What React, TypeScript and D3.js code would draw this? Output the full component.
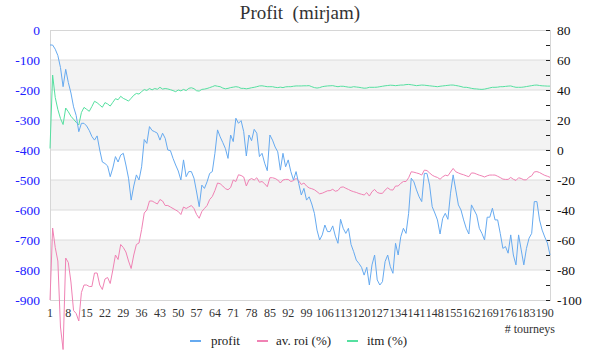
import React from "react";
import * as d3 from "d3";

const title = "Profit  (mirjam)";
const xAxisTitle = "# tourneys";
const seriesNames = ["profit", "av. roi (%)", "itm (%)"];
const seriesColors = ["#66aaf0", "#f082b4", "#55e0a0"];

const leftTicks = [0, -100, -200, -300, -400, -500, -600, -700, -800, -900];
const rightTicks = [80, 60, 40, 20, 0, -20, -40, -60, -80, -100];
const xTicks = d3.range(1, 191, 7);

const profit = [
  -50, -50, -64, -85, -125, -189, -131, -175, -210, -256,
  -285, -339, -311, -311, -320, -335, -355, -367, -353, -400,
  -440, -445, -453, -489, -460, -422, -440, -417, -411, -450,
  -494, -567, -520, -483, -500, -456, -365, -378, -322, -335,
  -339, -344, -367, -344, -361, -400, -402, -428, -450, -470,
  -500, -433, -489, -472, -472, -494, -540, -589, -517, -528,
  -506, -478, -472, -411, -333, -356, -375, -395, -428, -350,
  -372, -294, -311, -302, -339, -420, -350, -369, -331, -344,
  -422, -411, -444, -469, -350, -367, -390, -406, -467, -411,
  -456, -433, -472, -500, -472, -511, -550, -528, -567, -556,
  -580, -611, -667, -700, -683, -650, -672, -672, -653, -687,
  -711, -631, -661, -678, -661, -715, -739, -767, -778, -791,
  -817, -791, -850, -783, -750, -833, -850, -839, -772, -750,
  -789, -811, -711, -750, -689, -661, -678, -611, -494, -506,
  -533, -556, -572, -478, -478, -517, -589, -610, -633, -680,
  -628, -611, -631, -544, -483, -533, -583, -600, -633, -661,
  -680, -583, -600, -617, -661, -678, -700, -624, -624, -594,
  -633, -633, -678, -728, -722, -744, -683, -750, -783, -683,
  -733, -783, -728, -694, -678, -572, -572, -633, -667, -690,
  -710, -750,
];

const roi = [
  -100, -52, -65, -74, -118, -133, -72, -75, -88, -107,
  -109, -114, -95, -90, -90, -91, -91, -82, -82, -90,
  -93, -86, -85, -89, -80, -70, -73, -63, -65, -68,
  -74, -79, -70, -63, -62, -53, -42, -40, -34, -34,
  -35, -36, -33, -34, -37, -37, -38, -39, -40, -41,
  -43, -38, -39, -38, -37, -39, -43, -45.5, -41, -39,
  -37, -33, -31, -27, -22, -22.5, -24, -25.8, -26.5, -25,
  -20, -21, -16.5, -17, -18, -24, -20, -19, -20, -18.5,
  -21.5, -21, -22.5, -24.5, -18.5, -18.5, -19, -20, -22, -20,
  -19.6, -19.6, -21, -20.4, -19, -20.5, -23, -22, -24, -25.3,
  -25.8, -26.5, -27.8, -29.2, -28.8, -28, -27.2, -27.1, -26.2, -27.5,
  -27, -24.9, -24.6, -25.5, -26.3, -27.2, -27.8, -28.3, -29, -29.5,
  -30, -28.4, -30.7, -27.8, -26.3, -28.3, -28.9, -28.9, -26.7, -25.2,
  -26.5, -26.7, -24, -24, -22.2, -21, -21, -18.5, -14.5, -14.8,
  -15.3, -15.8, -16.7, -13.4, -13.7, -15.3, -16.8, -17.7, -18.3, -19.5,
  -17.9, -16.8, -17.2, -14.7, -12.3, -14.5, -15.3, -16, -16.5, -17.2,
  -17.8, -15.3, -15.4, -16.1, -16.8, -17.3, -18, -17.2, -16.7, -16.7,
  -16.7, -17.5, -18.4, -19.4, -19.6, -19.6, -18.3, -19.5, -20.3, -18.5,
  -19, -19.9, -19.9, -18.1, -17.2, -14.6, -14.4, -15, -16, -16.9,
  -17.5, -18.2,
];

const itm = [
  1, 50, 35, 27, 21, 17, 28, 25.5, 22.5, 20.5,
  18.5, 16.7, 25, 28.4, 27.1, 25.8, 29, 32.5, 31.5, 30,
  28.5, 31.6, 30.7, 29.3, 31.8, 34.2, 33.5, 35.8, 34.4, 33.6,
  32.6, 34.5, 36.5, 37.7, 37.3, 38.9, 40.3, 39.7, 41, 40.1,
  41, 40.5, 41.8, 40.6, 41, 40.7, 40.2, 39.6, 38.9, 40,
  39.4, 40.4, 39.6, 41.1, 41.5, 40.9, 39.5, 39.3, 40.4, 40.6,
  41, 41.6, 42.2, 42.9, 42.5, 42.2, 41.3, 40.8, 41.1, 41.6,
  41.9, 42.2, 41.9, 41.1, 41.1, 40.8, 41.1, 41.5, 41.8, 42.2,
  42.7, 42.8, 42.5, 42.2, 42.2, 42.2, 41.8, 41.6, 41.9, 41.6,
  42.1, 42.2, 42.2, 42.5, 42.7, 42.7, 42.7, 42.8, 42.8, 42.9,
  42.2, 41.6, 41.3, 41.6, 42.2, 42.5, 42.7, 42.8, 42.9, 42.5,
  42.2, 42.5, 42.5, 42.2, 41.9, 41.8, 42.2, 42, 41.8, 41.5,
  41.2, 41.3, 41.8, 41.8, 41.8, 41.9, 42.2, 42.5, 42.8, 43,
  43.2, 43.1, 42.9, 43.1, 43.3, 43.3, 43.6, 43.7, 43.5, 43.2,
  42.9, 43.1, 43.3, 43.2, 43, 42.8, 42.6, 42.4, 42.2, 42.5,
  42.7, 42.9, 43.1, 43.3, 43.3, 43, 42.7, 42.3, 41.8, 41.8,
  41.5, 41.1, 40.8, 40.7, 40.5, 40.4, 40.6, 41, 41.4, 41.8,
  41.8, 41.9, 42.2, 42.2, 42.4, 42.6, 42.7, 42.2, 41.8, 41.8,
  41.8, 42, 42.3, 42.6, 42.9, 43.2, 43.3, 43, 42.8, 42.7,
  42.6, 42.6,
];

const FONT = "'Liberation Serif', 'DejaVu Serif', serif";

export default function App() {
  const W = 600, H = 360;
  const L = 50, R = 550, T = 30, B = 300;
  const n = profit.length;
  const x = d3.scaleLinear().domain([1, n]).range([L, R]);
  const yL = d3.scaleLinear().domain([-900, 0]).range([B, T]);
  const yR = d3.scaleLinear().domain([-100, 80]).range([B, T]);

  const lineL = d3.line<number>().x((_, i) => x(i + 1)).y((d) => yL(d));
  const lineR = d3.line<number>().x((_, i) => x(i + 1)).y((d) => yR(d));

  const bands = [-100, -300, -500, -700];
  const minorRight = d3.range(-100, 81, 10);

  const legendItems = [
    { name: seriesNames[0], color: seriesColors[0], sx: 190, tx: 211 },
    { name: seriesNames[1], color: seriesColors[1], sx: 257, tx: 276 },
    { name: seriesNames[2], color: seriesColors[2], sx: 347, tx: 367 },
  ];

  return (
    <svg width={W} height={H} style={{ position: "absolute", left: 0, top: 0, background: "#fff", fontFamily: FONT }}>
      <rect x={0} y={0} width={W} height={H} fill="#fff" />
      {bands.map((b) => (
        <rect key={b} x={L} y={yL(b)} width={R - L} height={yL(b - 100) - yL(b)} fill="#f3f3f3" />
      ))}
      {leftTicks.slice(1, -1).map((t) => (
        <line key={t} x1={L} x2={R} y1={yL(t)} y2={yL(t)} stroke="#dcdcdc" strokeWidth={1} />
      ))}
      <rect x={L + 0.5} y={T + 0.5} width={R - L} height={B - T} fill="none" stroke="#d6d6d6" strokeWidth={1} />

      {minorRight.map((t) => (
        <line key={t} x1={R - 4} x2={R} y1={Math.round(yR(t)) + 0.5} y2={Math.round(yR(t)) + 0.5} stroke="#222" strokeWidth={1} />
      ))}

      <text x={300} y={19} textAnchor="middle" fontSize={19} fill="#333" style={{ whiteSpace: "pre" }}>{title}</text>

      {leftTicks.map((t) => (
        <text key={t} x={40} y={yL(t) + 4.5} textAnchor="end" fontSize={13.5} fill="#2020ff">{t}</text>
      ))}
      {rightTicks.map((t) => (
        <text key={t} x={557} y={yR(t) + 4.5} textAnchor="start" fontSize={13.5} fill="#111">{t}</text>
      ))}
      {xTicks.map((t) => (
        <text key={t} x={x(t)} y={317} textAnchor="middle" fontSize={12} fill="#333">{t}</text>
      ))}
      <text x={555} y={333} textAnchor="end" fontSize={12} fill="#333">{xAxisTitle}</text>

      <path d={lineR(itm) || ""} fill="none" stroke={seriesColors[2]} strokeWidth={1} />
      <path d={lineR(roi) || ""} fill="none" stroke={seriesColors[1]} strokeWidth={1} />
      <path d={lineL(profit) || ""} fill="none" stroke={seriesColors[0]} strokeWidth={1} />

      {legendItems.map((it) => (
        <g key={it.name}>
          <line x1={it.sx} x2={it.sx + 11} y1={341} y2={341} stroke={it.color} strokeWidth={2} />
          <text x={it.tx} y={345} fontSize={13} fill="#222">{it.name}</text>
        </g>
      ))}
    </svg>
  );
}
